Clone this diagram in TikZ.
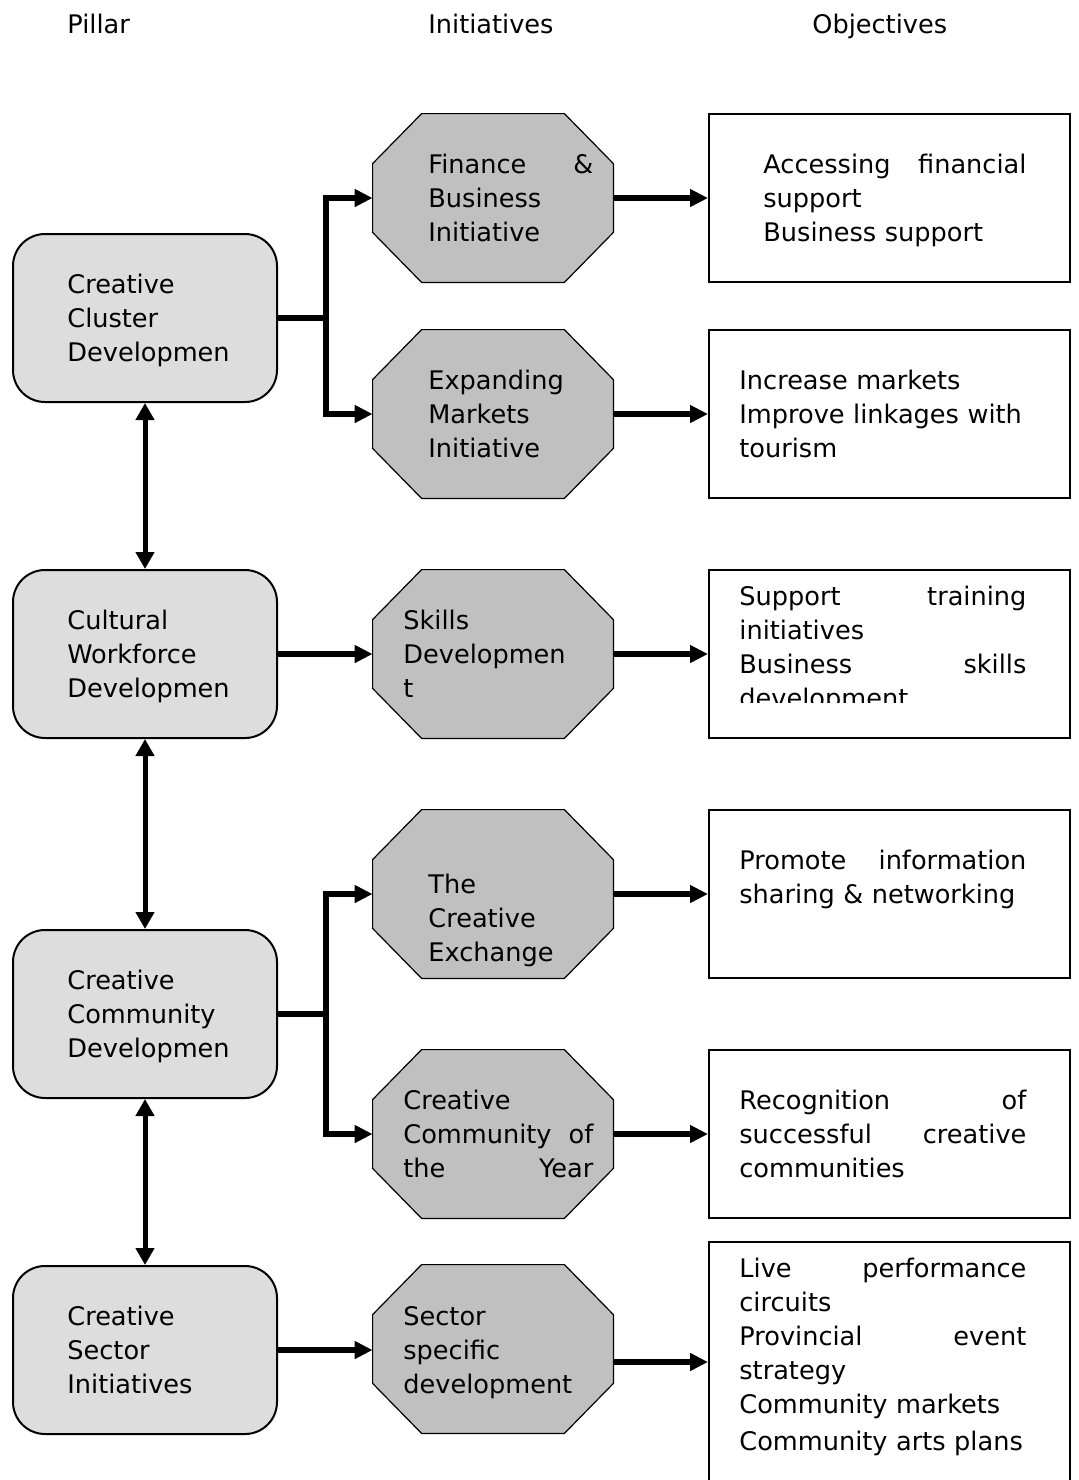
\documentclass[tikz,border=0pt]{standalone}
\usepackage{fontspec}
\setmainfont{DejaVu Sans}
\usetikzlibrary{arrows.meta,positioning}

\definecolor{pillarfill}{HTML}{DDDDDD}
\definecolor{initfill}{HTML}{C0C0C0}

\begin{document}
\begin{tikzpicture}[x=0.5pt,y=-0.5pt,
  font=\fontsize{12.8}{17}\selectfont,
  pillar/.style={draw,line width=1pt,fill=pillarfill,rounded corners=16pt,
    minimum width=132pt,minimum height=84pt,inner sep=0pt},
  % octagon drawn round the node box, corners cut off
  initiative/.style={minimum width=120pt,minimum height=84pt,inner sep=0pt,
    append after command={\pgfextra{
      \filldraw[line width=0.6pt,fill=initfill]
        ([xshift=24.5pt]\tikzlastnode.north west) -- ([xshift=-24.5pt]\tikzlastnode.north east)
        -- ([yshift=-25pt]\tikzlastnode.north east) -- ([yshift=25pt]\tikzlastnode.south east)
        -- ([xshift=-24.5pt]\tikzlastnode.south east) -- ([xshift=24.5pt]\tikzlastnode.south west)
        -- ([yshift=25pt]\tikzlastnode.south west) -- ([yshift=-25pt]\tikzlastnode.north west) -- cycle;}}},
  objective/.style={draw,line width=1pt,minimum width=180.5pt,minimum height=84pt,inner sep=0pt},
  txt/.style={anchor=base west,inner sep=0pt,align=left},
  link/.style={line width=3pt},
  flow/.style={line width=3pt,-{Triangle[length=9pt,width=8.5pt]}},
  both/.style={line width=2.5pt,{Triangle[length=8.5pt,width=9pt]}-{Triangle[length=8.5pt,width=9pt]}}]
\clip (0,0) rectangle (1078,1480);

% column heads
\node[txt] (hpil) at (67,33) {Pillar};
\node[txt] (hini) at (428,33) {Initiatives};
\node[txt] (hobj) at (812,33) {Objectives};

% pillars
\node[pillar] (p1) at (145,318) {};
\node[pillar] (p2) at (145,654) {};
\node[pillar] (p3) at (145,1014) {};
\node[pillar] (p4) at (145,1350) {};
\node[txt,text width=90pt] (p1t) at (67,293) {Creative\\Cluster\\Developmen};
\node[txt,text width=90pt] (p2t) at (67,629) {Cultural\\Workforce\\Developmen};
\node[txt,text width=90pt] (p3t) at (67,989) {Creative\\Community\\Developmen};
\node[txt,text width=90pt] (p4t) at (67,1325) {Creative\\Sector\\Initiatives};

% initiatives
\node[initiative] (i1) at (493,198) {};
\node[initiative] (i2) at (493,414) {};
\node[initiative] (i3) at (493,654) {};
\node[initiative] (i4) at (493,894) {};
\node[initiative] (i5) at (493,1134) {};
\node[initiative] (i6) at (493,1349) {};
\node[txt,text width=82.5pt] (i1t) at (428,173) {Finance\hfill\&\\Business\\Initiative};
\node[txt,text width=82.5pt] (i2t) at (428,389) {Expanding\\Markets\\Initiative};
\node[txt,text width=95pt] (i3t) at (403,629) {Skills\\Developmen\\t};
\node[txt,text width=82.5pt] (i4t) at (428,893) {The\\Creative\\Exchange};
\node[txt,text width=95pt] (i5t) at (403,1109) {Creative\\Community\hfill of\\the\hfill Year};
\node[txt,text width=95pt] (i6t) at (403,1325) {Sector\\specific\\development};

% objectives
\node[objective] (o1) at (889.5,198) {};
\node[objective] (o2) at (889.5,414) {};
\node[objective] (o3) at (889.5,654) {};
\node[objective] (o4) at (889.5,894) {};
\node[objective] (o5) at (889.5,1134) {};
\node[objective,minimum height=129pt] (o6) at (889.5,1371) {};
\node[txt,text width=131.5pt] (o1t) at (763,173) {Accessing\hfill financial\\support\\Business support};
\node[txt,text width=143.5pt] (o2t) at (739,389) {Increase markets\\Improve linkages with\\tourism};
\begin{scope}
\clip (709,570) rectangle (1070,702);
\node[txt,text width=143.5pt] (o3t) at (739,605) {Support\hfill training\\initiatives\\Business\hfill skills\\development};
\end{scope}
\node[txt,text width=143.5pt] (o4t) at (739,869) {Promote\hfill information\\sharing \& networking};
\node[txt,text width=143.5pt] (o5t) at (739,1109) {Recognition\hfill of\\successful\hfill creative\\communities};
\node[txt,text width=143.5pt] (o6t) at (739,1277) {Live\hfill performance\\circuits\\Provincial\hfill event\\strategy\\Community markets\\[1.5pt]Community arts plans};

% pillar links
\draw[both] (p1.south) -- (p2.north);
\draw[both] (p2.south) -- (p3.north);
\draw[both] (p3.south) -- (p4.north);

% pillar to initiative
\draw[link] (p1.east) -- ++(48,0) coordinate (j1);
\draw[flow] (j1) |- (i1.west);
\draw[flow] (j1) |- (i2.west);
\draw[flow] (p2.east) -- (i3.west);
\draw[link] (p3.east) -- ++(48,0) coordinate (j3);
\draw[flow] (j3) |- (i4.west);
\draw[flow] (j3) |- (i5.west);
\draw[flow] (p4.east) -- (p4.east -| i6.west);

% initiative to objective
\draw[flow] (i1.east) -- (o1.west);
\draw[flow] (i2.east) -- (o2.west);
\draw[flow] (i3.east) -- (o3.west);
\draw[flow] (i4.east) -- (o4.west);
\draw[flow] (i5.east) -- (o5.west);
\draw[flow] ([yshift=-6.5pt]i6.east) -- ([yshift=-6.5pt]i6.east -| o6.west);
\end{tikzpicture}
\end{document}
